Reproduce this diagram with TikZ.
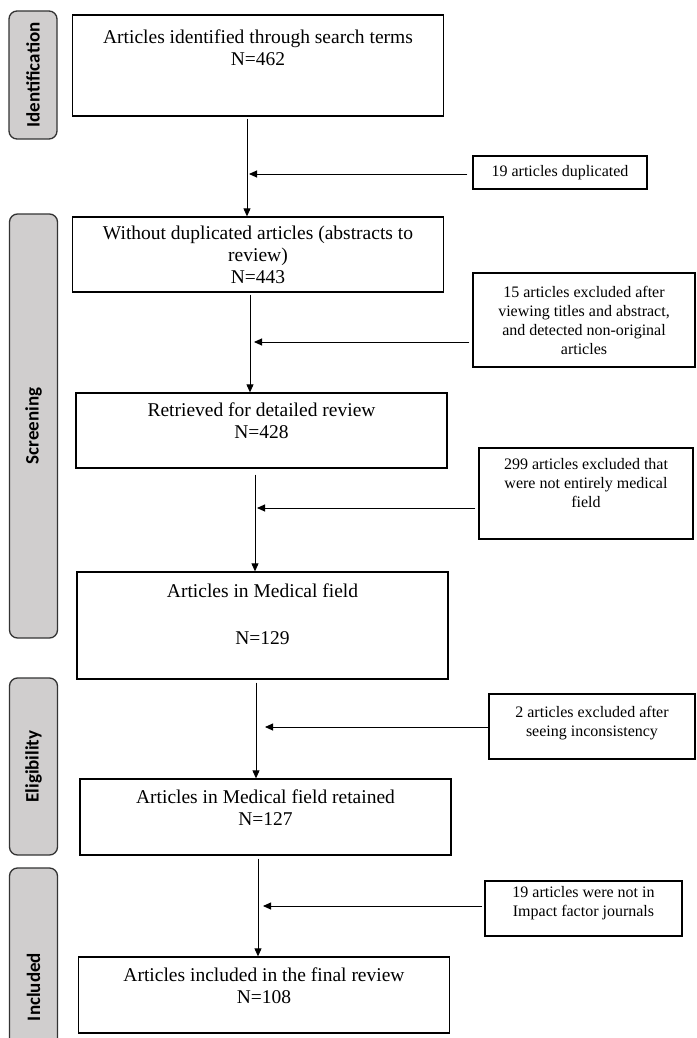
\documentclass[tikz,border=0pt]{standalone}
\usepackage{fontspec}
\setmainfont{Liberation Serif}
\newfontfamily\sidefont{Carlito}
\usetikzlibrary{arrows.meta, positioning}
\definecolor{sidegray}{HTML}{D0CECE}

\begin{document}
\begin{tikzpicture}[
    x=1pt, y=-1pt,
    every node/.style={font=\fontsize{19.5}{22}\selectfont},
    stage/.style={
        rectangle,
        draw=black,
        line width=1.3pt,
        minimum width=371pt,
        align=center,
        inner sep=2pt
    },
    excl/.style={
        rectangle,
        draw=black,
        line width=1.3pt,
        align=center,
        inner sep=2pt,
        font=\fontsize{16}{19}\selectfont
    },
    side/.style={
        rectangle,
        rounded corners=8pt,
        draw=black!80,
        line width=1.3pt,
        fill=sidegray,
        rotate=90,
        minimum height=48pt,
        font=\sidefont\bfseries\fontsize{19}{22}\selectfont
    },
    arrow/.style={-{Triangle[length=8pt, width=7pt]}, line width=0.9pt}
]
\useasboundingbox (0,0) rectangle (696,1038);

% phases down the left
\node[side, minimum width=128pt] (sideid) at (33,75) {Identification};
\node[side, minimum width=424pt] (sidescr) at (33.5,426) {Screening};
\node[side, minimum width=177pt] (sideelig) at (33.5,766.5) {Eligibility};
\node[side, minimum width=238pt] (sideinc) at (33.5,987) {Included};

% main flow
\node[stage, minimum height=101pt, text depth=36pt] (found) at (258,65.5)
    {Articles identified through search terms\\N=462};
\node[stage, minimum height=75pt] (dedup) at (258,254.5)
    {Without duplicated articles (abstracts to\\review)\\N=443};
\node[stage, minimum height=75pt, text depth=20pt] (retr) at (261.5,430.5)
    {Retrieved for detailed review\\N=428};
\node[stage, minimum height=107pt, text depth=23pt] (med) at (262.5,625.5)
    {Articles in Medical field\\[25pt]N=129};
\node[stage, minimum height=76pt, text depth=18pt] (kept) at (265.5,817)
    {Articles in Medical field retained\\N=127};
\node[stage, minimum height=76pt, text depth=18pt] (final) at (264,995)
    {Articles included in the final review\\N=108};

% exclusions
\node[excl, minimum width=174pt, minimum height=33pt] (dup) at (560,172.5)
    {19 articles duplicated};
\node[excl, minimum width=222pt, minimum height=94pt] (xtitle) at (584,320)
    {15 articles excluded after\\viewing titles and abstract,\\and detected non-original\\articles};
\node[excl, minimum width=214pt, minimum height=91pt, text depth=21pt] (xfield) at (586,493.5)
    {299 articles excluded that\\were not entirely medical\\field};
\node[excl, minimum width=206pt, minimum height=65pt, text depth=10pt] (xincon) at (592,726.5)
    {2 articles excluded after\\seeing inconsistency};
\node[excl, minimum width=197pt, minimum height=55pt, text depth=14pt] (ximpact) at (583.5,908.5)
    {19 articles were not in\\Impact factor journals};

% where the side arrows meet the flow
\coordinate (v1) at (247,174);
\coordinate (v2) at (250,342);
\coordinate (v3) at (255,508);
\coordinate (v4) at (256,727);
\coordinate (v5) at (258,906);

\draw[arrow] ([yshift=-2pt]found.south -| v1) -- (dedup.north -| v1);
\draw[arrow] ([yshift=-2pt]dedup.south -| v2) -- (retr.north -| v2);
\draw[arrow] ([yshift=-6pt]retr.south -| v3) -- (med.north -| v3);
\draw[arrow] ([yshift=-3pt]med.south -| v4) -- (kept.north -| v4);
\draw[arrow] ([yshift=-3pt]kept.south -| v5) -- (final.north -| v5);

\draw[arrow] ([xshift=-5pt]dup.west |- v1) -- ([xshift=2pt]v1);
\draw[arrow] ([xshift=-3pt]xtitle.west |- v2) -- ([xshift=4pt]v2);
\draw[arrow] ([xshift=-3pt]xfield.west |- v3) -- ([xshift=2pt]v3);
\draw[arrow] (xincon.west |- v4) -- ([xshift=9pt]v4);
\draw[arrow] ([xshift=-2pt]ximpact.west |- v5) -- ([xshift=5pt]v5);

\end{tikzpicture}
\end{document}
